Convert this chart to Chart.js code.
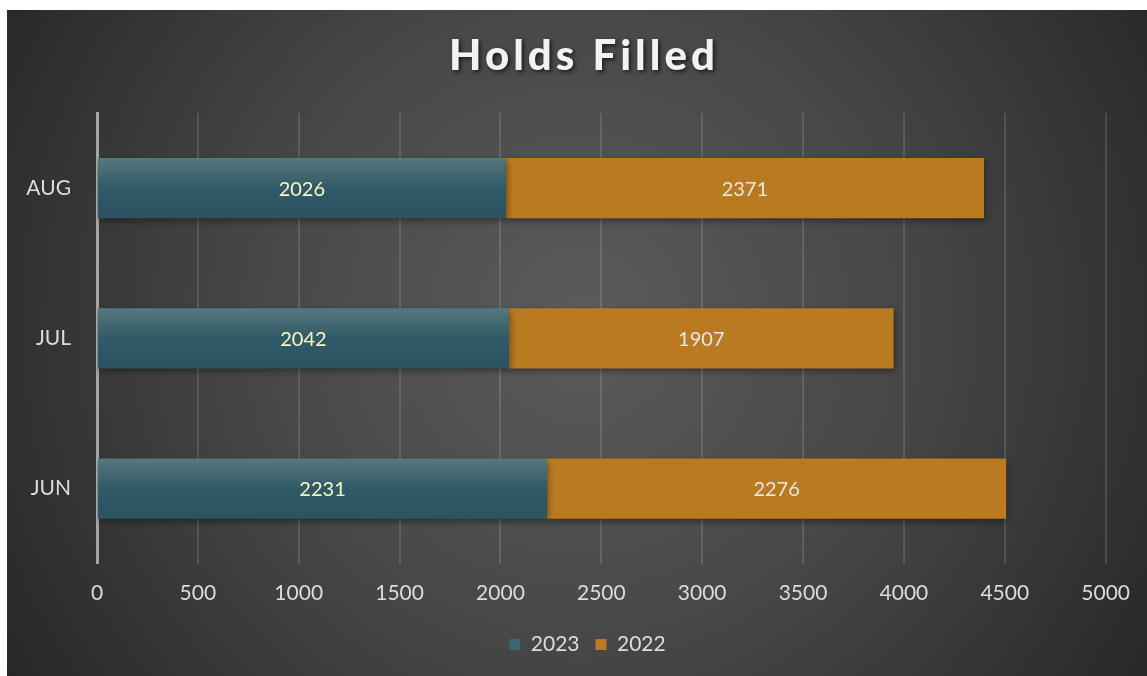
<!DOCTYPE html>
<html>
<head>
<meta charset="utf-8">
<script src="https://cdn.jsdelivr.net/npm/chart.js@4/dist/chart.umd.min.js"></script>
<style>
  html, body { margin: 0; padding: 0; background: #ffffff; width: 1147px; height: 676px; overflow: hidden; }
  #wrap { position: absolute; left: 7px; top: 10px; width: 1140px; height: 666px; }
</style>
</head>
<body>
<div id="wrap"><canvas id="c" width="1140" height="666"></canvas></div>
<script>
const categories = ["AUG", "JUL", "JUN"];
const series2023 = [2026, 2042, 2231];
const series2022 = [2371, 1907, 2276];
const seriesNames = ["2023", "2022"];
const xTicks = [0, 500, 1000, 1500, 2000, 2500, 3000, 3500, 4000, 4500, 5000];
const chartTitle = "Holds Filled";

const FONT = "Lato, 'Open Sans', sans-serif";

function tealGradient(context) {
  const chart = context.chart;
  const yScale = chart.scales.y;
  if (!yScale || context.dataIndex === undefined) return '#2e5865';
  const yc = yScale.getPixelForValue(context.dataIndex);
  const g = chart.ctx.createLinearGradient(0, yc - 30, 0, yc + 30);
  g.addColorStop(0, '#56787f');
  g.addColorStop(0.5, '#2f5a66');
  g.addColorStop(1, '#2b5360');
  return g;
}

const bgPlugin = {
  id: 'bg',
  beforeDraw(chart) {
    const ctx = chart.ctx;
    const w = chart.width, h = chart.height;
    ctx.save();
    const g = ctx.createRadialGradient(575, 310, 0, 575, 310, 720);
    g.addColorStop(0, '#5b5b5b');
    g.addColorStop(0.45, '#474747');
    g.addColorStop(1, '#232323');
    ctx.fillStyle = g;
    ctx.fillRect(0, 0, w, h);
    ctx.restore();
  }
};

const legendShift = {
  id: 'legendShift',
  afterLayout(chart) {
    if (chart.legend) {
      chart.legend.left += 30;
      chart.legend.right += 30;
      chart.legend.top -= 5;
      chart.legend.bottom -= 5;
    }
  }
};

const titlePlugin = {
  id: 'customTitle',
  afterDraw(chart) {
    const ctx = chart.ctx;
    ctx.save();
    ctx.font = "900 42px " + FONT;
    try { ctx.letterSpacing = '4px'; } catch (e) {}
    ctx.textAlign = 'center';
    ctx.textBaseline = 'middle';
    ctx.shadowColor = 'rgba(0,0,0,0.65)';
    ctx.shadowBlur = 4;
    ctx.shadowOffsetX = 2;
    ctx.shadowOffsetY = 2;
    ctx.fillStyle = '#f2f2f2';
    ctx.fillText(chartTitle, 577, 46);
    ctx.restore();
  }
};

const shadowPlugin = {
  id: 'barShadow',
  beforeDatasetsDraw(chart) {
    const ctx = chart.ctx;
    ctx.save();
    ctx.shadowColor = 'rgba(0,0,0,0.45)';
    ctx.shadowBlur = 7;
    ctx.shadowOffsetX = 1;
    ctx.shadowOffsetY = 3;
  },
  afterDatasetsDraw(chart) {
    chart.ctx.restore();
  }
};

const labelPlugin = {
  id: 'segLabels',
  afterDatasetsDraw(chart) {
    const ctx = chart.ctx;
    ctx.save();
    ctx.font = "20px " + FONT;
    ctx.textAlign = 'center';
    ctx.textBaseline = 'middle';
    chart.data.datasets.forEach((ds, di) => {
      const meta = chart.getDatasetMeta(di);
      meta.data.forEach((bar, i) => {
        const p = bar.getProps(['x', 'y', 'base'], true);
        const cx = (p.x + p.base) / 2;
        ctx.fillStyle = di === 0 ? '#fbf7c4' : '#e6e6e6';
        ctx.fillText(String(ds.data[i]), cx, p.y + 1);
      });
    });
    ctx.restore();
  }
};

new Chart(document.getElementById('c'), {
  type: 'bar',
  data: {
    labels: categories,
    datasets: [
      { label: seriesNames[0], data: series2023, backgroundColor: tealGradient, borderWidth: 0 },
      { label: seriesNames[1], data: series2022, backgroundColor: '#ba7a20', borderWidth: 0 }
    ]
  },
  options: {
    indexAxis: 'y',
    responsive: false,
    animation: false,
    devicePixelRatio: 1,
    categoryPercentage: 0.4,
    barPercentage: 1.0,
    layout: { padding: { top: 103, right: 39, left: 0, bottom: 6 } },
    scales: {
      x: {
        stacked: true,
        min: 0,
        max: 5000,
        afterBuildTicks(scale) { scale.ticks = xTicks.map(v => ({ value: v })); },
        grid: { color: 'rgba(255,255,255,0.13)', lineWidth: 2, drawTicks: false },
        border: { display: false },
        ticks: {
          color: '#dcdcdc', font: { family: FONT, size: 21 }, padding: 17, maxRotation: 0,
          callback: (v) => String(v)
        }
      },
      y: {
        stacked: true,
        afterFit(scale) { scale.width = 90; },
        grid: { display: false },
        border: { display: true, color: '#a4a4a4', width: 3 },
        ticks: { color: '#dcdcdc', font: { family: FONT, size: 21 }, padding: 18 }
      }
    },
    plugins: {
      title: { display: false },
      tooltip: { enabled: false },
      legend: {
        position: 'bottom',
        labels: {
          color: '#dcdcdc',
          font: { family: FONT, size: 21 },
          boxWidth: 11,
          boxHeight: 11,
          padding: 16,
          generateLabels(chart) {
            return chart.data.datasets.map((ds, i) => ({
              text: ds.label,
              fillStyle: i === 0 ? '#3b6570' : '#ba7a20',
              strokeStyle: 'rgba(0,0,0,0)',
              lineWidth: 0,
              fontColor: '#dcdcdc',
              datasetIndex: i,
              hidden: false
            }));
          }
        }
      }
    }
  },
  plugins: [bgPlugin, legendShift, shadowPlugin, labelPlugin, titlePlugin]
});
</script>
</body>
</html>
